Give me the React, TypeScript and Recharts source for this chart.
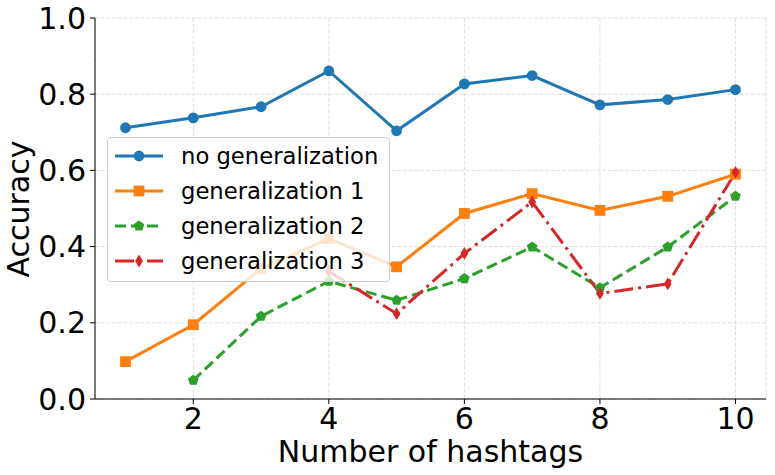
import React from 'react'
import {
  CartesianGrid,
  Legend,
  Line,
  LineChart,
  XAxis,
  YAxis,
} from 'recharts'

const HASHTAGS = [1, 2, 3, 4, 5, 6, 7, 8, 9, 10]
const NO_GEN = [0.712, 0.738, 0.767, 0.861, 0.704, 0.827, 0.849, 0.772, 0.786, 0.812]
const GEN_1 = [0.098, 0.195, 0.342, 0.421, 0.347, 0.487, 0.539, 0.495, 0.532, 0.59]
const GEN_2 = [null, 0.049, 0.217, 0.309, 0.259, 0.316, 0.399, 0.292, 0.399, 0.532]
const GEN_3 = [null, null, null, 0.335, 0.224, 0.382, 0.517, 0.277, 0.302, 0.595]

const X_TICKS = [2, 4, 6, 8, 10]
const Y_TICKS = [0, 0.2, 0.4, 0.6, 0.8, 1.0]

const LABELS = ['no generalization', 'generalization 1', 'generalization 2', 'generalization 3']

const data = HASHTAGS.map((x, i) => ({
  x,
  g0: NO_GEN[i],
  g1: GEN_1[i],
  g2: GEN_2[i],
  g3: GEN_3[i],
}))

const FONT = '"DejaVu Sans", sans-serif'
const BLUE = '#1f77b4'
const ORANGE = '#ff7f0e'
const GREEN = '#2ca02c'
const RED = '#d62728'

type Shape = 'circle' | 'square' | 'pentagon' | 'diamond'

function marker(shape: Shape, cx: number, cy: number, color: string, key?: React.Key) {
  if (shape === 'circle') return <circle key={key} cx={cx} cy={cy} r={5.4} fill={color} />
  if (shape === 'square')
    return <rect key={key} x={cx - 5.4} y={cy - 5.4} width={10.8} height={10.8} fill={color} />
  if (shape === 'pentagon') {
    const pts = [0, 1, 2, 3, 4]
      .map((k) => {
        const a = -Math.PI / 2 + (k * 2 * Math.PI) / 5
        return `${cx + 5.6 * Math.cos(a)},${cy + 5.6 * Math.sin(a)}`
      })
      .join(' ')
    return <polygon key={key} points={pts} fill={color} />
  }
  return (
    <polygon
      key={key}
      points={`${cx},${cy - 6.4} ${cx + 3.9},${cy} ${cx},${cy + 6.4} ${cx - 3.9},${cy}`}
      fill={color}
    />
  )
}

function dotFor(shape: Shape, color: string) {
  return (p: any) => {
    if (p.cy == null || p.value == null || isNaN(p.cy)) return <g key={p.index} />
    return marker(shape, p.cx, p.cy, color, p.index)
  }
}

const SERIES = [
  { key: 'g0', color: BLUE, shape: 'circle' as Shape, dash: undefined },
  { key: 'g1', color: ORANGE, shape: 'square' as Shape, dash: undefined },
  { key: 'g2', color: GREEN, shape: 'pentagon' as Shape, dash: '11 5' },
  { key: 'g3', color: RED, shape: 'diamond' as Shape, dash: '19 5 3 5' },
]

function LegendBox() {
  return (
    <div
      style={{
        boxSizing: 'border-box',
        width: 283,
        height: 145,
        border: '1px solid #cccccc',
        borderRadius: 4,
        background: 'rgba(255,255,255,0.8)',
        paddingTop: 0,
        fontFamily: FONT,
        fontSize: 22.7,
        color: '#000',
      }}
    >
      {SERIES.map((s, i) => (
        <div key={s.key} style={{ height: 35, display: 'flex', alignItems: 'center' }}>
          <svg width={48} height={16} style={{ marginLeft: 7, marginRight: 18, overflow: 'visible' }}>
            <line x1={0} y1={8} x2={48} y2={8} stroke={s.color} strokeWidth={3} strokeDasharray={s.dash} />
            {marker(s.shape, 24, 8, s.color)}
          </svg>
          <span style={{ whiteSpace: 'nowrap' }}>{LABELS[i]}</span>
        </div>
      ))}
    </div>
  )
}

function YLabel(props: any) {
  const cy = 209
  return (
    <text
      x={29}
      y={cy}
      transform={`rotate(-90, 29, ${cy})`}
      textAnchor="middle"
      fontSize={30}
      fontFamily={FONT}
      fill="#000"
    >
      Accuracy
    </text>
  )
}

export default function App() {
  const tick = { fontSize: 30, fill: '#000', fontFamily: FONT }
  return (
    <div style={{ position: 'fixed', left: 0, top: 0, width: 775, height: 475, background: '#fff' }}>
      <LineChart width={775} height={475} data={data} margin={{ top: 18, right: 9, left: 0, bottom: 0 }}>
        <CartesianGrid stroke="#e0e0e0" strokeDasharray="4 1.7" />
        <XAxis
          dataKey="x"
          type="number"
          domain={[0.55, 10.45]}
          ticks={X_TICKS}
          allowDataOverflow
          height={76}
          tick={tick}
          tickSize={5}
          tickMargin={4}
          axisLine={{ stroke: '#000' }}
          tickLine={{ stroke: '#000' }}
          label={{
            value: 'Number of hashtags',
            position: 'insideBottom',
            offset: 13,
            fontSize: 30,
            fontFamily: FONT,
            fill: '#000',
          }}
        />
        <XAxis
          xAxisId="top"
          orientation="top"
          dataKey="x"
          type="number"
          domain={[0.55, 10.45]}
          height={0}
          tick={false}
          tickLine={false}
          axisLine={{ stroke: '#000' }}
        />
        <YAxis
          type="number"
          domain={[0, 1]}
          ticks={Y_TICKS}
          width={95}
          tick={tick}
          tickSize={5}
          tickMargin={4}
          tickFormatter={(v: number) => v.toFixed(1)}
          axisLine={{ stroke: '#000' }}
          tickLine={{ stroke: '#000' }}
          label={<YLabel />}
        />
        <YAxis
          yAxisId="right"
          orientation="right"
          type="number"
          domain={[0, 1]}
          width={0}
          tick={false}
          tickLine={false}
          axisLine={{ stroke: '#000' }}
        />
        {SERIES.map((s) => (
          <Line
            key={s.key}
            dataKey={s.key}
            stroke={s.color}
            strokeWidth={3}
            strokeDasharray={s.dash}
            dot={dotFor(s.shape, s.color)}
            activeDot={false}
            isAnimationActive={false}
          />
        ))}
        <Legend
          layout="horizontal"
          verticalAlign="middle"
          align="center"
          wrapperStyle={{ left: 107, top: 137, width: 283, height: 145 }}
          content={() => <LegendBox />}
        />
      </LineChart>
    </div>
  )
}
